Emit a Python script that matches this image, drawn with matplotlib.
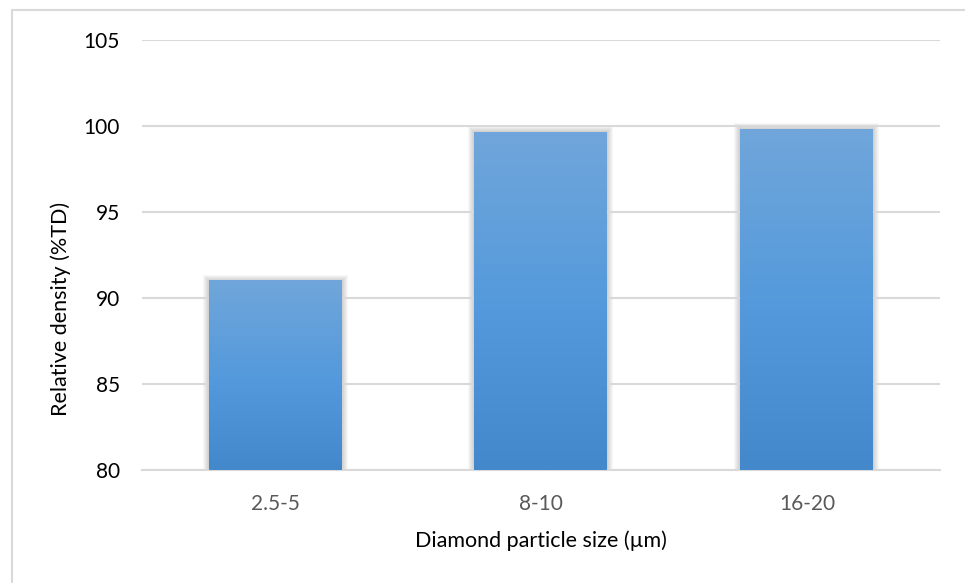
import numpy as np
import matplotlib
matplotlib.use("Agg")
import matplotlib.pyplot as plt
from matplotlib.colors import LinearSegmentedColormap
from matplotlib.patches import Rectangle

plt.rcParams['font.family'] = ['Lato', 'DejaVu Sans']

# relative density per diamond size range
sizes = ['2.5-5', '8-10', '16-20']
density = [91.0, 99.65, 99.8]
y_ticks = [80, 85, 90, 95, 100, 105]

fig = plt.figure(figsize=(9.65, 5.83), dpi=100)
ax = fig.add_axes([0.1472, 0.1938, 0.8268, 0.7376])
ax.set_facecolor('none')

x = np.arange(len(sizes))
bars = ax.bar(x, [d - 80 for d in density], bottom=80, width=0.5,
              color='none', edgecolor='none', zorder=3)

ax.set_xlim(-0.5, len(sizes) - 0.5)
ax.set_ylim(80, 105)
ax.set_yticks(y_ticks)
ax.set_xticks(x)
ax.set_xticklabels(sizes)

for s in ['top', 'right', 'left']:
    ax.spines[s].set_visible(False)
ax.spines['bottom'].set_color('#d9d9d9')
ax.spines['bottom'].set_linewidth(1.5)
ax.grid(axis='y', color='#d9d9d9', linewidth=1.5, zorder=0)
ax.set_axisbelow(True)
ax.tick_params(axis='both', length=0)
ax.tick_params(axis='y', labelsize=15, pad=16, labelcolor='#000000')
ax.tick_params(axis='x', labelsize=15, pad=17, labelcolor='#595959')

ax.set_ylabel('Relative density (%TD)', fontsize=15.5)
ax.yaxis.set_label_coords(-0.089, 0.375)
ax.set_xlabel('Diamond particle size (µm)', fontsize=15.5, labelpad=12)

# gradient fill, light at the top, darker at the base
cmap = LinearSegmentedColormap.from_list('bar', ['#4388cb', '#559adc', '#70a6da'])
grad = np.linspace(0, 1, 256).reshape(-1, 1)
fig.canvas.draw()
for b in bars:
    x0, y0 = b.get_x(), b.get_y()
    x1, y1 = x0 + b.get_width(), y0 + b.get_height()
    # soft shadow around the bar, drawn in pixels behind the axes
    p0 = ax.transData.transform((x0, y0))
    p1 = ax.transData.transform((x1, y1))
    for k in range(1, 7):
        fig.patches.append(Rectangle((p0[0] - k, p0[1]), p1[0] - p0[0] + 2 * k,
                                     p1[1] - p0[1] + k, transform=None,
                                     facecolor='#000000', alpha=0.03,
                                     edgecolor='none', zorder=-1))
    ax.imshow(grad, extent=[x0, x1, y0, y1], origin='lower', cmap=cmap,
              aspect='auto', zorder=4)

ax.set_xlim(-0.5, len(sizes) - 0.5)
ax.set_ylim(80, 105)

# chart frame
fig.patches.append(Rectangle((12, -10), 1000, 583, transform=None, fill=False,
                             edgecolor='#d9d9d9', linewidth=1.5, zorder=-2))

fig.savefig('out.png', dpi=100)
